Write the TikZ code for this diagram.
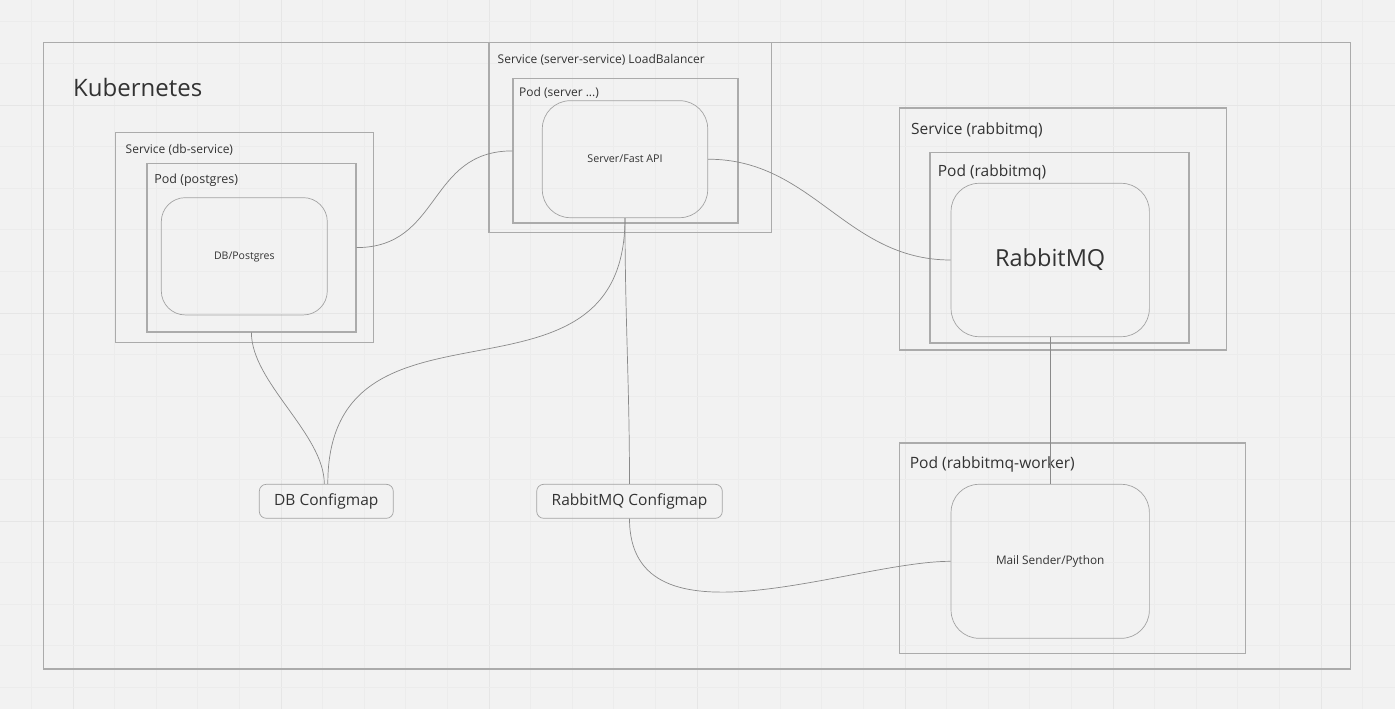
\documentclass[tikz,border=0pt]{standalone}
\usepackage{fontspec}
\setmainfont{Open Sans}
\newcommand\fsz[1]{\fontsize{#1}{#1}\selectfont}
\definecolor{bgc}{HTML}{F2F2F2}
\definecolor{gridlight}{HTML}{ECECEC}
\definecolor{griddark}{HTML}{E6E6E6}
\definecolor{boxc}{HTML}{ABABAB}
\definecolor{appc}{HTML}{A3A3A3}
\definecolor{connc}{HTML}{8A8A8A}
\definecolor{txtc}{HTML}{333333}
\tikzset{
  frame/.style={draw=boxc, line width=1.3pt, inner sep=0pt, anchor=north west},
  appbox/.style={draw=appc, line width=0.7pt, rounded corners=28pt, inner sep=0pt, text=txtc},
  cfgbox/.style={draw=appc, line width=0.7pt, rounded corners=7pt, inner sep=0pt,
    text=txtc, text height=11.07pt, text depth=2.8pt, font=\fsz{15.5}},
  lbl/.style={inner sep=0pt, anchor=base west, text=txtc},
  conn/.style={draw=connc, line width=0.7pt},
}
\begin{document}
\begin{tikzpicture}[x=1pt,y=-1pt]
\useasboundingbox (0,0) rectangle (1395,709);
\fill[bgc] (0,0) rectangle (1395,709);
% grid
\foreach \i in {0,...,33}{
  \pgfmathtruncatemacro\m{mod(\i,5)}
  \ifnum\m=1 \def\gc{griddark}\else\def\gc{gridlight}\fi
  \draw[\gc, line width=0.8pt] ({31.4+41.6*\i},0) -- ({31.4+41.6*\i},709);
}
\foreach \j in {0,...,16}{
  \pgfmathtruncatemacro\m{mod(\j,5)}
  \ifnum\m=2 \def\gc{griddark}\else\def\gc{gridlight}\fi
  \draw[\gc, line width=0.8pt] (0,{21.8+41.6*\j}) -- (1395,{21.8+41.6*\j});
}
% Kubernetes frame
\node[frame, minimum width=1307.5pt, minimum height=626.5pt] (k8s) at (42.5,41.7) {};
\node[lbl, font=\fsz{24}] (lk8s) at (73,96.7) {Kubernetes};
% db service
\node[frame, line width=1.2pt, minimum width=258pt, minimum height=210pt] (svcdb) at (115,131.7) {};
\node[lbl, font=\fsz{12}] (lsvcdb) at (125.5,153.3) {Service (db-service)};
\node[frame, line width=1.2pt, minimum width=209pt, minimum height=168.6pt] (poddb) at (146.3,162.7) {};
\node[lbl, font=\fsz{12.5}] (lpoddb) at (154.2,183.3) {Pod (postgres)};
\node[appbox, rounded corners=24pt, minimum width=166pt, minimum height=117.3pt, font=\fsz{10.5},
  text height=7.5pt, text depth=1.9pt] (db) at (244.3,256.3) {DB/Postgres};
% server service
\node[frame, line width=1.2pt, minimum width=282.4pt, minimum height=190pt] (svcsrv) at (488.3,41.7) {};
\node[lbl, font=\fsz{12}] (lsvcsrv) at (497.5,63.3) {Service (server-service) LoadBalancer};
\node[frame, line width=1.2pt, minimum width=225pt, minimum height=144pt] (podsrv) at (512.3,78.3) {};
\node[lbl, font=\fsz{12}] (lpodsrv) at (519,96.7) {Pod (server ...)};
\node[appbox, minimum width=165.4pt, minimum height=117pt, font=\fsz{10.7},
  text height=7.64pt, text depth=1.93pt] (srv) at (625,159.2) {Server/Fast API};
% rabbitmq service
\node[frame, line width=1.2pt, minimum width=326.5pt, minimum height=242pt] (svcrmq) at (899.2,107.3) {};
\node[lbl, font=\fsz{15.5}] (lsvcrmq) at (911,134.3) {Service (rabbitmq)};
\node[frame, line width=1.2pt, minimum width=259pt, minimum height=190.6pt] (podrmq) at (929.3,151.7) {};
\node[lbl, font=\fsz{15.5}] (lpodrmq) at (937.6,176) {Pod (rabbitmq)};
\node[appbox, minimum width=198.3pt, minimum height=153.4pt, font=\fsz{23.5},
  text height=16.8pt, text depth=4.2pt] (rmq) at (1050.2,260) {RabbitMQ};
% worker pod
\node[frame, line width=1.2pt, minimum width=346pt, minimum height=210.4pt] (podwrk) at (899.2,442.3) {};
\node[lbl, font=\fsz{15.6}] (lpodwrk) at (909.6,468.3) {Pod (rabbitmq-worker)};
\node[appbox, minimum width=198.3pt, minimum height=154pt, font=\fsz{11.8},
  text height=8.43pt, text depth=2.12pt] (mail) at (1050.2,561.3) {Mail Sender/Python};
% configmaps
\node[cfgbox, minimum width=134pt, minimum height=34pt] (cfgdb) at (326.3,501.3) {DB Configmap};
\node[cfgbox, minimum width=185.6pt, minimum height=34pt] (cfgrmq) at (629.5,501.3) {RabbitMQ Configmap};
% connectors
\draw[conn] (poddb.east) .. controls +(85,0) and +(-85,0) .. (podsrv.west);
\draw[conn] (srv.east) .. controls +(105,0) and +(-105,0) .. (rmq.west);
\draw[conn] (srv.south) .. controls +(0,210) and +(0,-210) .. ([xshift=1.5pt]cfgdb.north);
\draw[conn] (poddb.south) .. controls +(0,50) and +(0,-50) .. ([xshift=-2pt]cfgdb.north);
\draw[conn] (srv.south) .. controls +(0,100) and +(0,-100) .. (cfgrmq.north);
\draw[conn] (cfgrmq.south) .. controls +(0,135) and +(-100,0) .. (mail.west);
\draw[conn] (rmq.south) -- (mail.north);
\end{tikzpicture}
\end{document}
